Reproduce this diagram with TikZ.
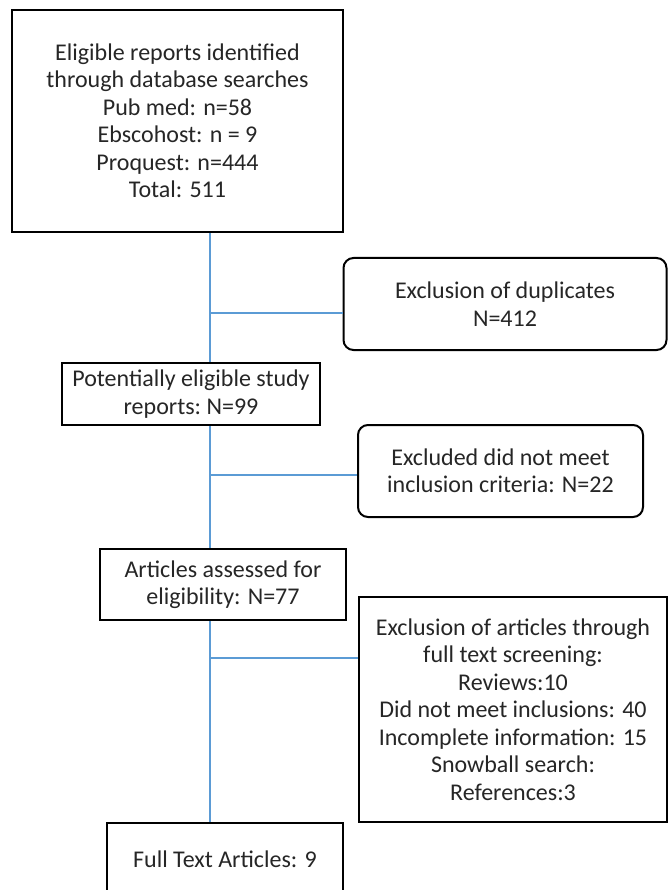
\documentclass[tikz,border=0pt]{standalone}
\usepackage{fontspec}
\setmainfont{Carlito}
\definecolor{linkblue}{RGB}{91,155,213}
\begin{document}
\begin{tikzpicture}[x=1pt, y=-1pt,
every node/.style={font=\fontsize{24}{27.5}\selectfont, text=black!85, align=center, inner sep=0pt},
box/.style={rectangle, draw, line width=2.5pt, fill=white},
rbox/.style={rectangle, draw, rounded corners=10pt, line width=2pt, fill=white},
link/.style={draw=linkblue, line width=2pt},
]
\useasboundingbox (0,0) rectangle (668,890);
% boxes
\node [box, minimum width=331pt, minimum height=222pt] (search) at (177.5,121)
	{Eligible reports identified\\ through database searches\\ Pub med: n=58\\ Ebscohost: n = 9\\ Proquest: n=444\\ Total: 511};
\node [rbox, minimum width=323pt, minimum height=92pt] (dup) at (505,304)
	{Exclusion of duplicates\\ N=412};
\node [box, minimum width=258pt, minimum height=62pt] (screen) at (191,394)
	{Potentially eligible study\\ reports:\ N=99};
\node [rbox, minimum width=285pt, minimum height=92pt] (crit) at (500.5,471)
	{Excluded did not meet\\ inclusion criteria: N=22};
\node [box, minimum width=246pt, minimum height=71pt] (assess) at (223,584.5)
	{Articles assessed for\\ eligibility: N=77};
\node [box, minimum width=308pt, minimum height=225pt] (fulltext) at (513,709.5)
	{Exclusion of articles through\\ full text screening:\\ Reviews:10\\ Did not meet inclusions: 40\\ Incomplete information: 15\\ Snowball search:\\ References:3};
\node [box, minimum width=236pt, minimum height=72pt] (final) at (225,859)
	{Full Text Articles: 9};
% trunk and branches
\coordinate (trunk) at (210,0);
\coordinate (j1) at (210,313);
\coordinate (j2) at (210,475);
\coordinate (j3) at (210,658);
\draw [link] (search.south -| trunk) -- (screen.north -| trunk);
\draw [link] (screen.south -| trunk) -- (assess.north -| trunk);
\draw [link] (assess.south -| trunk) -- (final.north -| trunk);
\draw [link] (j1) -- (j1 -| dup.west);
\draw [link] (j2) -- (j2 -| crit.west);
\draw [link] (j3) -- (j3 -| fulltext.west);
\end{tikzpicture}
\end{document}
